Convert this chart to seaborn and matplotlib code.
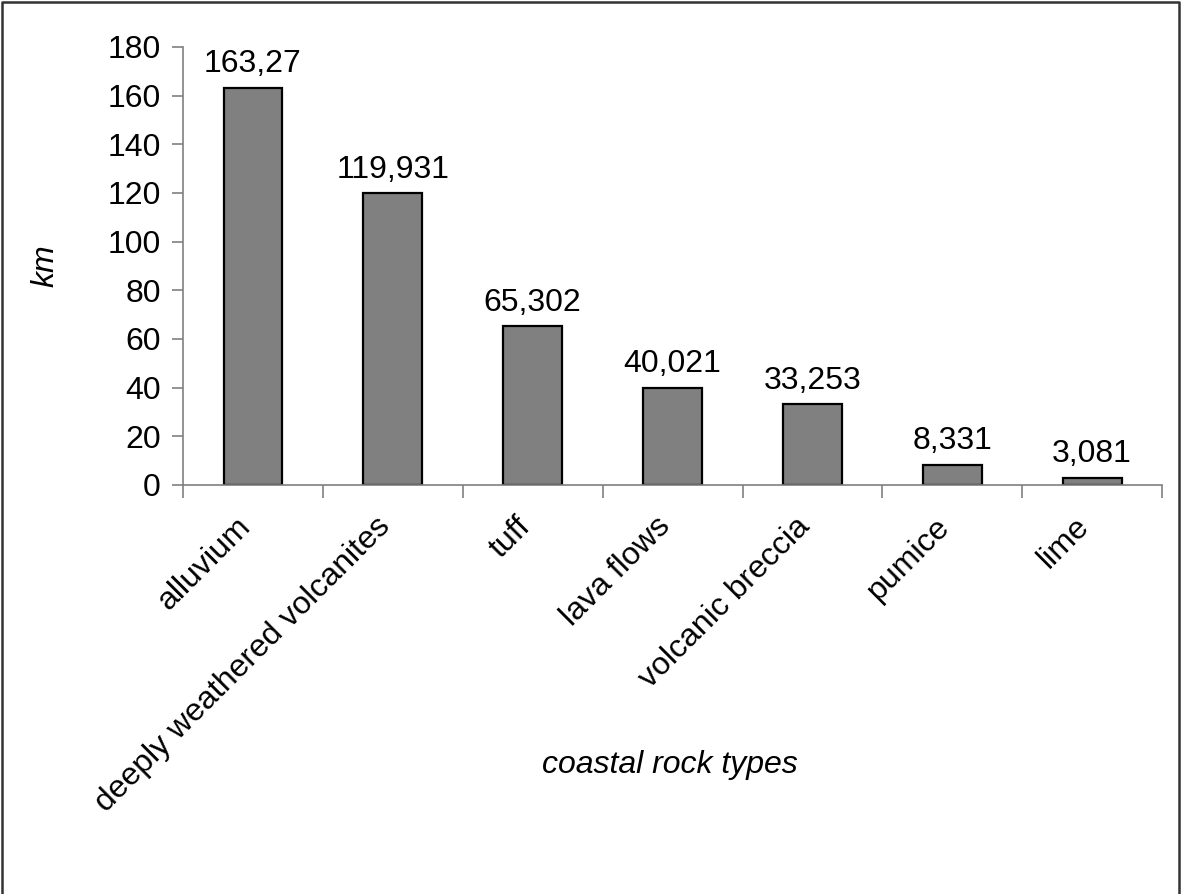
import matplotlib
matplotlib.use("Agg")
import matplotlib.pyplot as plt
import matplotlib.transforms as mtransforms
import seaborn as sns
import pandas as pd

categories = ["alluvium", "deeply weathered volcanites", "tuff", "lava flows",
              "volcanic breccia", "pumice", "lime"]
lengths_km = [163.27, 119.931, 65.302, 40.021, 33.253, 8.331, 3.081]
value_labels = ["163,27", "119,931", "65,302", "40,021", "33,253", "8,331", "3,081"]
y_ticks = [0, 20, 40, 60, 80, 100, 120, 140, 160, 180]

sns.set_theme(style="white")
plt.rcParams["font.family"] = ["Liberation Sans", "DejaVu Sans"]
plt.rcParams["text.color"] = "black"
plt.rcParams["xtick.color"] = "black"
plt.rcParams["ytick.color"] = "black"
plt.rcParams["axes.labelcolor"] = "black"

FS = 23

df = pd.DataFrame({"rock": categories, "km": lengths_km})

fig = plt.figure(figsize=(11.81, 8.94), dpi=100)
ax = fig.add_axes([0.155, 1 - 485 / 894, 0.984 - 0.155, (485 - 47) / 894])

sns.barplot(data=df, x="rock", y="km", ax=ax, color="#808080",
            saturation=1, width=0.42, edgecolor="black", linewidth=1.6)

ax.set_xlim(-0.5, len(categories) - 0.5)
ax.set_ylim(0, 180)
ax.set_yticks(y_ticks)
ax.set_yticklabels([str(t) for t in y_ticks], fontsize=FS)

# category ticks sit on the boundaries between bars
ax.set_xticks([i + 0.5 for i in range(-1, len(categories))], minor=True)
ax.set_xticks(range(len(categories)))
ax.set_xticklabels(categories, rotation=45, ha="right", va="center",
                   rotation_mode="anchor", fontsize=FS)
ax.tick_params(axis="x", which="major", length=0, pad=0, labelcolor="black")
ax.tick_params(axis="x", which="minor", length=9, width=1.2, color="#808080",
               direction="out", bottom=True)
ax.tick_params(axis="y", length=8, width=1.2, color="#808080", direction="out",
               left=True, pad=8, labelcolor="black")

# nudge the slanted category names so their ends sit just left of each bar centre
shift = mtransforms.ScaledTranslation(-7 / 100, -37 / 100, fig.dpi_scale_trans)
for lbl in ax.get_xticklabels():
    lbl.set_transform(lbl.get_transform() + shift)

for side in ("top", "right"):
    ax.spines[side].set_visible(False)
for side in ("left", "bottom"):
    ax.spines[side].set_color("#808080")
    ax.spines[side].set_linewidth(1.2)

for i, (v, lab) in enumerate(zip(lengths_km, value_labels)):
    ax.annotate(lab, (i, v), xytext=(0, 6), textcoords="offset points",
                ha="center", va="bottom", fontsize=FS, color="black")

ax.set_xlabel("")
ax.set_ylabel("km", fontsize=FS, style="italic", color="black")
ax.yaxis.set_label_coords((60 - 183) / (1162 - 183), 0.5)
fig.text(670 / 1181, 1 - 765 / 894, "coastal rock types", fontsize=FS,
         style="italic", ha="center", va="center", color="black")

# outer frame around the figure (left, top and right edges)
fig.add_artist(plt.Line2D([0.002, 0.002, 0.998, 0.998], [0.0, 0.998, 0.998, 0.0],
                          transform=fig.transFigure, color="#333333", linewidth=1.8))

fig.savefig("out.png", dpi=100)
